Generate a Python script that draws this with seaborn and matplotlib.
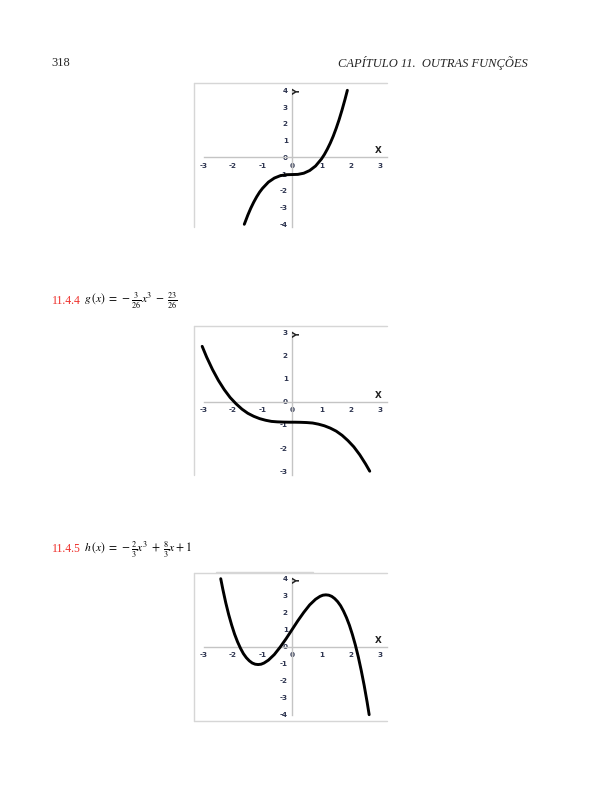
import matplotlib
matplotlib.use('Agg')
import matplotlib.pyplot as plt
import seaborn as sns
from matplotlib.lines import Line2D

# ---------------- data ----------------
f_x = [-1.62, -1.6, -1.5, -1.4, -1.3, -1.2, -1.1, -1.0, -0.8, -0.6, -0.4,
       -0.2, 0.0, 0.2, 0.4, 0.6, 0.8, 1.0, 1.1, 1.2, 1.3, 1.4, 1.5, 1.6,
       1.7, 1.8, 1.88]
f_y = [-4.0, -3.91, -3.45, -3.04, -2.68, -2.36, -2.08, -1.85, -1.48, -1.24,
       -1.10, -1.04, -1.03, -1.02, -0.95, -0.79, -0.52, -0.10, 0.17, 0.49,
       0.85, 1.26, 1.73, 2.25, 2.83, 3.46, 4.0]

g_x = [-3.05, -2.9, -2.7, -2.5, -2.3, -2.1, -1.9, -1.7, -1.5, -1.3, -1.1,
       -0.9, -0.7, -0.5, -0.3, -0.1, 0.1, 0.3, 0.5, 0.7, 0.9, 1.1, 1.3, 1.5,
       1.7, 1.9, 2.1, 2.3, 2.5, 2.64]
g_y = [2.39, 1.93, 1.39, 0.92, 0.52, 0.18, -0.09, -0.32, -0.50, -0.63, -0.73,
       -0.80, -0.85, -0.87, -0.88, -0.885, -0.885, -0.89, -0.90, -0.92, -0.97,
       -1.04, -1.14, -1.27, -1.45, -1.68, -1.95, -2.29, -2.69, -3.0]

h_x = [-2.42, -2.35, -2.25, -2.15, -2.05, -1.95, -1.85, -1.75, -1.65, -1.55,
       -1.45, -1.35, -1.25, -1.15, -1.05, -0.95, -0.8, -0.6, -0.4, -0.2, 0.0,
       0.2, 0.4, 0.6, 0.8, 0.95, 1.05, 1.15, 1.25, 1.35, 1.45, 1.55, 1.65,
       1.75, 1.85, 1.95, 2.05, 2.15, 2.25, 2.35, 2.45, 2.55, 2.62]
h_y = [4.0, 3.39, 2.59, 1.89, 1.28, 0.74, 0.29, -0.09, -0.41, -0.65,
       -0.83, -0.96, -1.03, -1.05, -1.03, -0.96, -0.79, -0.46, -0.02, 0.47, 1.0,
       1.53, 2.02, 2.46, 2.79, 2.96, 3.03, 3.05, 3.03, 2.96, 2.83, 2.65, 2.41,
       2.09, 1.71, 1.26, 0.72, 0.11, -0.59, -1.39, -2.27, -3.25, -4.0]

x_ticks = [-3, -2, -1, 0, 1, 2, 3]
f_yticks = [-4, -3, -2, -1, 0, 1, 2, 3, 4]
g_yticks = [-3, -2, -1, 0, 1, 2, 3]
h_yticks = [-4, -3, -2, -1, 0, 1, 2, 3, 4]

header_page = "318"
header_title = "CAPÍTULO 11.  OUTRAS FUNÇÕES"
ex4_num = "11.4.4"
ex4_formula = r"$g\,(x)\;=\;-\frac{3}{26}x^3\;-\;\frac{23}{26}$"
ex5_num = "11.4.5"
ex5_formula = r"$h\,(x)\;=\;-\frac{2}{3}x^3\;+\;\frac{8}{3}x\:+\:1$"

# ---------------- styling ----------------
sns.set_style('white')
plt.rcParams['font.family'] = ['DejaVu Sans']
plt.rcParams['mathtext.fontset'] = 'stix'

W, H = 612, 792
fig = plt.figure(figsize=(W / 100, H / 100), dpi=100)
fig.patch.set_facecolor('white')

AXIS_C = '#c4c4c4'
FRAME_C = '#d6d6d6'
LABEL_C = '#2e3550'
RED = '#ee2f2a'


def px_axes(left, top, right, bottom):
    return fig.add_axes([left / W, 1 - bottom / H, (right - left) / W, (bottom - top) / H])


def frame_line(ax, x0, y0, x1, y1, color=FRAME_C, lw=1.0):
    ax.add_line(Line2D([x0, x1], [y0, y1], transform=ax.transAxes, color=color,
                       lw=lw, clip_on=False, zorder=1))


def panel(ax, xs, ys, yticks, xlim, ylim, vbounds, xlab_y, ylab_y, frames):
    sns.lineplot(x=xs, y=ys, ax=ax, color='black', linewidth=2.1, sort=False,
                 estimator=None, zorder=5)
    ax.set_xlim(xlim)
    ax.set_ylim(ylim)
    ax.set_facecolor('none')
    for s in ['top', 'right']:
        ax.spines[s].set_visible(False)
    ax.spines['left'].set_position(('data', 0))
    ax.spines['bottom'].set_position(('data', 0))
    ax.spines['left'].set_color(AXIS_C)
    ax.spines['bottom'].set_color(AXIS_C)
    ax.spines['left'].set_linewidth(1.0)
    ax.spines['bottom'].set_linewidth(1.0)
    ax.spines['bottom'].set_bounds(x_ticks[0], xlim[1])
    ax.spines['left'].set_bounds(vbounds[0], vbounds[1])
    ax.set_xticks(x_ticks)
    ax.set_xticklabels([str(t) for t in x_ticks])
    ax.set_yticks(yticks)
    ax.set_yticklabels([str(t) for t in yticks])
    ax.tick_params(axis='x', length=0, pad=4.0, labelsize=5.2, labelcolor=LABEL_C)
    ax.tick_params(axis='y', length=0, pad=3.0, labelsize=5.2, labelcolor=LABEL_C)
    for lab in ax.get_xticklabels() + ax.get_yticklabels():
        lab.set_fontweight('bold')
    ax.set_xlabel('')
    ax.set_ylabel('')
    ax.text(2.94, xlab_y, 'X', fontsize=6.3, fontweight='bold', color='#222222',
            ha='center', va='center')
    ax.text(0.2, ylab_y, 'Y', fontsize=6.3, fontweight='bold', color='#222222',
            ha='center', va='center', rotation=90)
    for fr in frames:
        frame_line(ax, *fr)
    ax.grid(False)


X0, X1 = 194, 387
x_zero = 292.0
x_scale = 29.45
xlim = (-(x_zero - X0) / x_scale, (X1 - x_zero) / x_scale)

# panel 1
t1, b1, z1, s1 = 83.3, 227.0, 157.3, 16.75
ax1 = px_axes(X0, t1, X1, b1)
panel(ax1, f_x, f_y, f_yticks, xlim, (-(b1 - z1) / s1, (z1 - t1) / s1),
      (-(b1 - z1) / s1, 4), 0.39, 3.88,
      [(0, 0, 0, 1), (0, 1, 1, 1)])

# panel 2
t2, b2, z2, s2 = 326.0, 475.0, 401.7, 23.17
ax2 = px_axes(X0, t2, X1, b2)
panel(ax2, g_x, g_y, g_yticks, xlim, (-(b2 - z2) / s2, (z2 - t2) / s2),
      (-(b2 - z2) / s2, 3), 0.25, 2.88,
      [(0, 0, 0, 1), (0, 1, 1, 1)])

# panel 3
t3, b3, z3, s3 = 573.0, 720.7, 646.7, 17.0
ax3 = px_axes(X0, t3, X1, b3)
panel(ax3, h_x, h_y, h_yticks, xlim, (-(b3 - z3) / s3, (z3 - t3) / s3),
      (-4, 4), 0.34, 3.88,
      [(0, 0, 0, 1), (0, 1, 1, 1), (0, 0, 1, 0),
       ((216 - X0) / (X1 - X0), 1 + 1.2 / (b3 - t3), (313 - X0) / (X1 - X0), 1 + 1.2 / (b3 - t3))])

# ---------------- page text ----------------
def ftext(x, y, s, **kw):
    fig.text(x / W, 1 - y / H, s, **kw)

ftext(51.5, 62.5, header_page, family='Liberation Serif', fontsize=9.0, va='center', ha='left')
ftext(527.5, 62.5, header_title, family='Liberation Serif', style='italic', fontsize=9.0,
      va='center', ha='right')

ftext(51.5, 301.0, ex4_num, family='Liberation Serif', fontsize=8.4, color=RED, va='center')
ftext(84.5, 301.0, ex4_formula, fontsize=8.4, va='center', color='black')
ftext(51.5, 549.5, ex5_num, family='Liberation Serif', fontsize=8.4, color=RED, va='center')
ftext(84.5, 549.5, ex5_formula, fontsize=8.4, va='center', color='black')

fig.savefig('out.png', dpi=100, facecolor='white')
